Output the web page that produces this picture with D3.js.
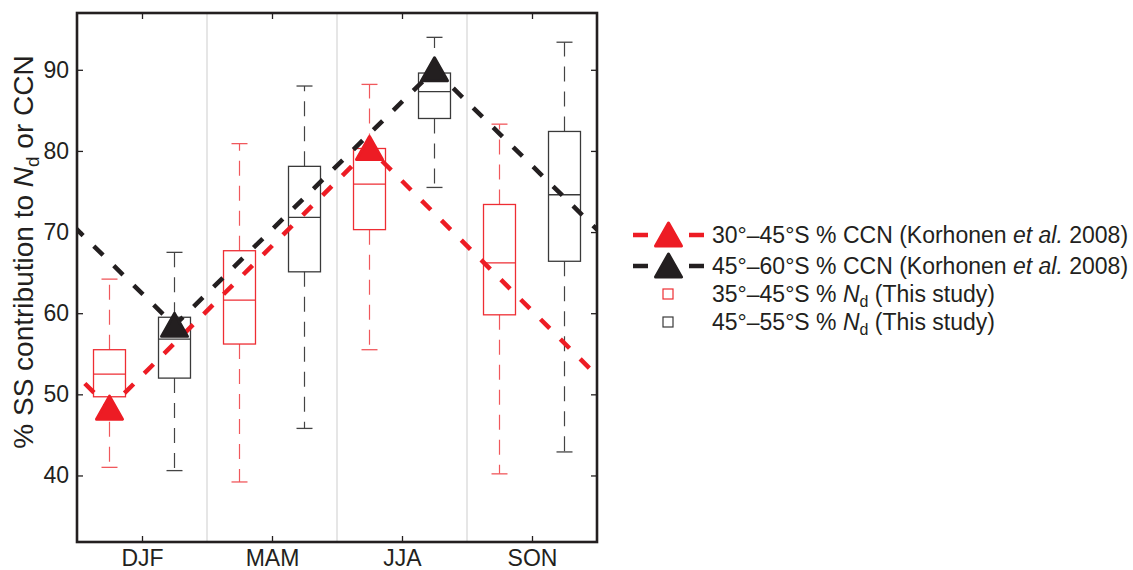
<!DOCTYPE html>
<html>
<head>
<meta charset="utf-8">
<script src="https://cdn.jsdelivr.net/npm/d3@7"></script>
<style>
body{margin:0;background:#fff;}
text{font-family:"Liberation Sans", Arial, sans-serif;fill:#231f20;}
</style>
</head>
<body>
<svg id="chart" width="1133" height="570"></svg>
<script>
// seasons on the x axis
var seasons = ["DJF", "MAM", "JJA", "SON"];
var yTicks = [40, 50, 60, 70, 80, 90];

// 35-45S % Nd (This study) box stats
var redLow  = [41.0, 39.2, 55.5, 40.2];
var redQ1   = [49.7, 56.2, 70.3, 59.8];
var redMed  = [52.5, 61.6, 75.9, 66.2];
var redQ3   = [55.5, 67.7, 80.3, 73.4];
var redHigh = [64.2, 80.9, 88.2, 83.3];

// 45-55S % Nd (This study) box stats
var blkLow  = [40.6, 45.8, 75.5, 42.9];
var blkQ1   = [52.0, 65.1, 84.0, 66.4];
var blkMed  = [56.8, 71.8, 87.3, 74.6];
var blkQ3   = [59.5, 78.1, 89.6, 82.4];
var blkHigh = [67.5, 88.0, 94.0, 93.4];

// Korhonen et al. 2008 % CCN, summer and winter only
var korSeasons = ["DJF", "JJA"];
var korRed   = [48.3, 80.3];   // 30-45S
var korBlack = [58.5, 90.0];   // 45-60S

var RED = "#ed1c24";
var BLK = "#231f20";

var svg = d3.select("#chart");
var plotL = 77, plotR = 597, plotT = 13, plotB = 542;

var xScale = d3.scaleLinear().domain([0.5, 4.5]).range([plotL, plotR]);
var yScale = d3.scaleLinear().domain([31.8, 97]).range([plotB, plotT]);

svg.append("clipPath").attr("id", "plotclip")
    .append("rect")
    .attr("x", plotL).attr("y", plotT)
    .attr("width", plotR - plotL).attr("height", plotB - plotT);

// grey separators between seasons
svg.selectAll("line.sep")
    .data([1.5, 2.5, 3.5])
    .enter()
    .append("line")
    .attr("x1", function(d){ return xScale(d); })
    .attr("x2", function(d){ return xScale(d); })
    .attr("y1", plotT).attr("y2", plotB)
    .attr("stroke", "#d6d6d6")
    .attr("stroke-width", 1.2);

var boxSeries = [
    {color: "#ee2d33", whisker: "#f0585c", off: -0.25, low: redLow, q1: redQ1, med: redMed, q3: redQ3, high: redHigh},
    {color: "#3a3a3a", whisker: "#444", off: 0.25, low: blkLow, q1: blkQ1, med: blkMed, q3: blkQ3, high: blkHigh}
];

var boxW = 0.246;
boxSeries.forEach(function(s){
    var rows = seasons.map(function(name, i){
        return {x: i + 1 + s.off, low: s.low[i], q1: s.q1[i], med: s.med[i], q3: s.q3[i], high: s.high[i]};
    });
    var g = svg.append("g");
    var b = g.selectAll("g").data(rows).enter().append("g");

    //whiskers
    b.append("line")
        .attr("x1", function(d){ return xScale(d.x); })
        .attr("x2", function(d){ return xScale(d.x); })
        .attr("y1", function(d){ return yScale(d.q3); })
        .attr("y2", function(d){ return yScale(d.high); })
        .attr("stroke", s.whisker).attr("stroke-width", 1.2)
        .attr("stroke-dasharray", "15,10");
    b.append("line")
        .attr("x1", function(d){ return xScale(d.x); })
        .attr("x2", function(d){ return xScale(d.x); })
        .attr("y1", function(d){ return yScale(d.q1); })
        .attr("y2", function(d){ return yScale(d.low); })
        .attr("stroke", s.whisker).attr("stroke-width", 1.2)
        .attr("stroke-dasharray", "15,10");

    //caps
    ["low", "high"].forEach(function(k){
        b.append("line")
            .attr("x1", function(d){ return xScale(d.x - boxW / 4); })
            .attr("x2", function(d){ return xScale(d.x + boxW / 4); })
            .attr("y1", function(d){ return yScale(d[k]); })
            .attr("y2", function(d){ return yScale(d[k]); })
            .attr("stroke", s.whisker).attr("stroke-width", 1.3);
    });

    b.append("rect")
        .attr("x", function(d){ return xScale(d.x - boxW / 2); })
        .attr("y", function(d){ return yScale(d.q3); })
        .attr("width", xScale(boxW) - xScale(0))
        .attr("height", function(d){ return yScale(d.q1) - yScale(d.q3); })
        .attr("fill", "none")
        .attr("stroke", s.color).attr("stroke-width", 1.3);

    b.append("line")
        .attr("x1", function(d){ return xScale(d.x - boxW / 2); })
        .attr("x2", function(d){ return xScale(d.x + boxW / 2); })
        .attr("y1", function(d){ return yScale(d.med); })
        .attr("y2", function(d){ return yScale(d.med); })
        .attr("stroke", s.color).attr("stroke-width", 1.3);
});

// Korhonen lines: seasonal cycle repeats, so previous/next year points extend the line to the frame
var triPath = "M0,-12 L13,11 L-13,11 Z";
var korSeries = [
    {color: RED, off: -0.25, vals: korRed},
    {color: BLK, off: 0.25, vals: korBlack}
];

var line = d3.line()
    .x(function(d){ return xScale(d.x); })
    .y(function(d){ return yScale(d.v); });

korSeries.forEach(function(s){
    var pts = [];
    [-1, 0, 1].forEach(function(k){
        korSeasons.forEach(function(name, i){
            pts.push({x: seasons.indexOf(name) + 1 + 4 * k + s.off, v: s.vals[i], main: k == 0});
        });
    });
    pts.sort(function(a, b){ return a.x - b.x; });

    svg.append("path")
        .datum(pts)
        .attr("d", line)
        .attr("clip-path", "url(#plotclip)")
        .attr("fill", "none")
        .attr("stroke", s.color)
        .attr("stroke-width", 4.5)
        .attr("stroke-dasharray", "13,15");

    svg.selectAll(null)
        .data(pts.filter(function(d){ return d.main; }))
        .enter()
        .append("path")
        .attr("d", triPath)
        .attr("transform", function(d){ return "translate(" + xScale(d.x) + "," + yScale(d.v) + ")"; })
        .attr("fill", s.color)
        .attr("stroke", s.color)
        .attr("stroke-width", 3)
        .attr("stroke-linejoin", "round");
});

// axes, ticks pointing inward on all sides
var fontSize = "23px";
var xAxis = d3.axisBottom(xScale).tickValues([1, 2, 3, 4])
    .tickFormat(function(d){ return seasons[d - 1]; })
    .tickSizeInner(-6).tickSizeOuter(0).tickPadding(8);
var gx = svg.append("g").attr("transform", "translate(0," + plotB + ")").call(xAxis);
gx.select(".domain").remove();
gx.selectAll("text").style("font-size", fontSize).attr("fill", BLK);

var yAxis = d3.axisLeft(yScale).tickValues(yTicks)
    .tickSizeInner(-6).tickSizeOuter(0).tickPadding(8);
var gy = svg.append("g").attr("transform", "translate(" + plotL + ",0)").call(yAxis);
gy.select(".domain").remove();
gy.selectAll("text").style("font-size", fontSize).attr("fill", BLK);

var gxt = svg.append("g").attr("transform", "translate(0," + plotT + ")")
    .call(d3.axisTop(xScale).tickValues([1, 2, 3, 4]).tickSizeInner(-6).tickSizeOuter(0).tickFormat(""));
gxt.select(".domain").remove();
var gyr = svg.append("g").attr("transform", "translate(" + plotR + ",0)")
    .call(d3.axisRight(yScale).tickValues(yTicks).tickSizeInner(-6).tickSizeOuter(0).tickFormat(""));
gyr.select(".domain").remove();
svg.selectAll(".tick line").attr("stroke", BLK).attr("stroke-width", 1.3);

svg.append("rect")
    .attr("x", plotL).attr("y", plotT)
    .attr("width", plotR - plotL).attr("height", plotB - plotT)
    .attr("fill", "none")
    .attr("stroke", BLK)
    .attr("stroke-width", 2.6);

// y label
var yl = svg.append("text")
    .attr("transform", "translate(33," + 252 + ") rotate(-90)")
    .attr("text-anchor", "middle")
    .style("font-size", "28px");
yl.append("tspan").text("% SS contribution to ");
yl.append("tspan").style("font-style", "italic").text("N");
yl.append("tspan").attr("dy", 6).style("font-size", "19px").text("d");
yl.append("tspan").attr("dy", -6).text(" or CCN");

// legend
var legRows = [235, 266, 294, 322];
var lg = svg.append("g");
[0, 1].forEach(function(i){
    var c = korSeries[i].color;
    lg.append("line")
        .attr("x1", 633).attr("x2", 704)
        .attr("y1", legRows[i]).attr("y2", legRows[i])
        .attr("stroke", c).attr("stroke-width", 4.5)
        .attr("stroke-dasharray", "15,41");
    lg.append("path")
        .attr("d", triPath)
        .attr("transform", "translate(668.5," + legRows[i] + ")")
        .attr("fill", c).attr("stroke", c)
        .attr("stroke-width", 3).attr("stroke-linejoin", "round");
});
[2, 3].forEach(function(i){
    lg.append("rect")
        .attr("x", 663).attr("y", legRows[i] - 5)
        .attr("width", 10).attr("height", 10)
        .attr("fill", "none")
        .attr("stroke", boxSeries[i - 2].color)
        .attr("stroke-width", 1.2);
});
var korLabels = ["30°–45°S % CCN (Korhonen ", "45°–60°S % CCN (Korhonen "];
korLabels.forEach(function(t, i){
    var tx = lg.append("text").attr("x", 712).attr("y", legRows[i] + 8).style("font-size", fontSize);
    tx.append("tspan").text(t);
    tx.append("tspan").style("font-style", "italic").text("et al.");
    tx.append("tspan").text(" 2008)");
});
var ndLabels = ["35°–45°S % ", "45°–55°S % "];
ndLabels.forEach(function(t, i){
    var tx = lg.append("text").attr("x", 712).attr("y", legRows[i + 2] + 8).style("font-size", fontSize);
    tx.append("tspan").text(t);
    tx.append("tspan").style("font-style", "italic").text("N");
    tx.append("tspan").attr("dy", 5).style("font-size", "16px").text("d");
    tx.append("tspan").attr("dy", -5).text(" (This study)");
});
</script>
</body>
</html>
